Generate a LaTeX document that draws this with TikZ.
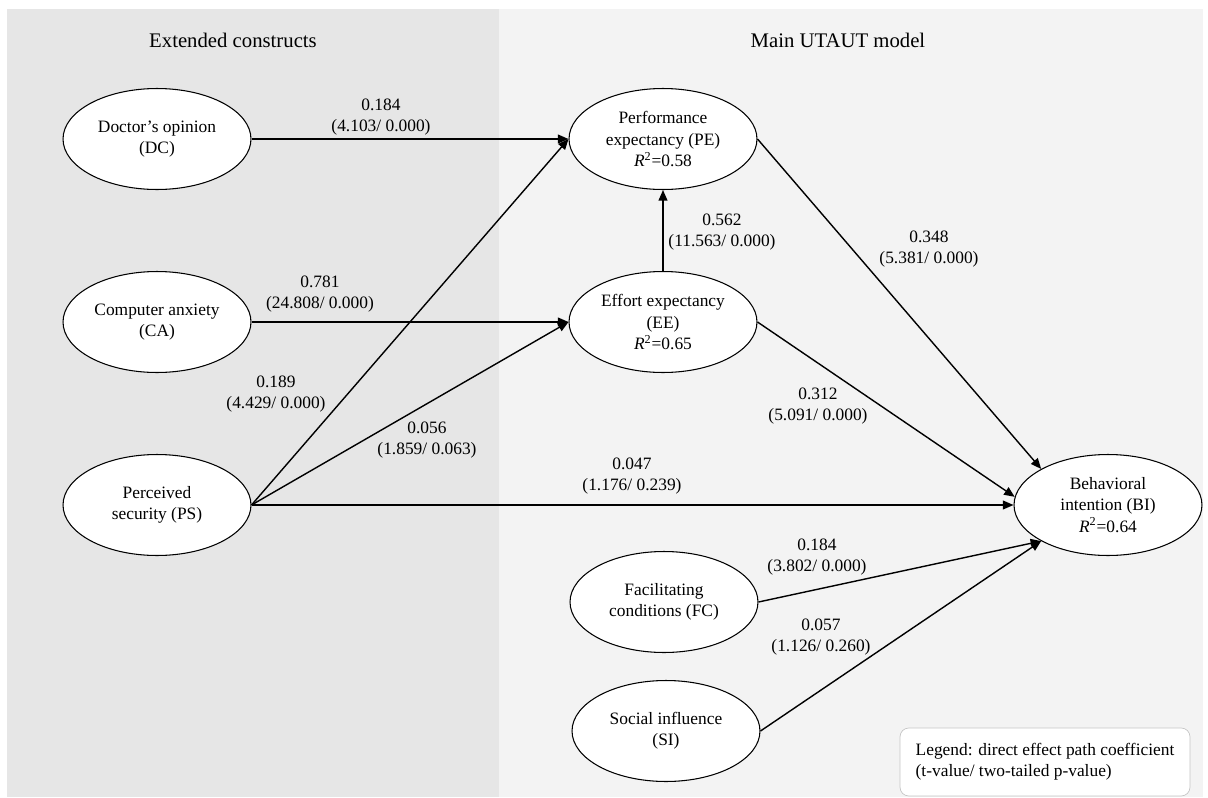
\documentclass[tikz,border=0pt]{standalone}
\usepackage{fontspec}
\setmainfont{Liberation Serif}
\usetikzlibrary{shapes.geometric,arrows.meta}

\definecolor{extbg}{HTML}{E6E6E6}
\definecolor{mainbg}{HTML}{F3F3F3}

\tikzset{
  construct/.style={ellipse, draw, fill=white, line width=0.6pt,
    minimum width=3.76cm, minimum height=2.02cm, inner sep=0pt,
    align=center, font=\fontsize{9.9}{12.2}\selectfont},
  coef/.style={align=center, inner sep=0pt, font=\fontsize{9.9}{12.2}\selectfont},
  effect/.style={-{Triangle[length=6pt,width=5pt]}, line width=0.8pt},
  paneltitle/.style={font=\fontsize{11.8}{14}\selectfont},
}

\begin{document}
\begin{tikzpicture}[x=0.02cm, y=-0.02cm]
\useasboundingbox (0,0) rectangle (1208,798);
% the two panels
\fill[extbg] (7,9) rectangle (499,797);
\fill[mainbg] (499,9) rectangle (1203,797);
\node[paneltitle] (exttitle) at (233,40) {Extended constructs};
\node[paneltitle] (maintitle) at (838,40) {Main UTAUT model};

% constructs
\node[construct] (dc) at (157,139) {Doctor’s opinion\\(DC)};
\node[construct] (ca) at (157,322) {Computer anxiety\\(CA)};
\node[construct] (ps) at (157,505) {Perceived\\security (PS)};
\node[construct] (pe) at (663,139) {Performance\\expectancy (PE)\\\textit{R}\textsuperscript{2}=0.58};
\node[construct] (ee) at (663,322) {Effort expectancy\\(EE)\\\textit{R}\textsuperscript{2}=0.65};
\node[construct] (bi) at (1108,505) {Behavioral\\intention (BI)\\\textit{R}\textsuperscript{2}=0.64};
\node[construct] (fc) at (664,602) {Facilitating\\conditions (FC)};
\node[construct] (si) at (666,731) {Social influence\\(SI)};

% paths
\draw[effect] (dc.east) -- (pe.west);
\draw[effect] (ca.east) -- (ee.west);
\draw[effect] (ps.east) -- (pe.west);
\draw[effect] (ps.east) -- (ee.west);
\draw[effect] (ps.east) -- (bi.west);
\draw[effect] (ee.north) -- (pe.south);
\draw[effect] (pe.east) -- (bi.north west);
\draw[effect] (ee.east) -- (bi.175);
\draw[effect] (fc.east) -- (bi.south west);
\draw[effect] (si.east) -- (bi.south west);

% coefficients
\node[coef] (dcpe) at (381,117) {0.184\\(4.103/ 0.000)};
\node[coef] (caee) at (320,294) {0.781\\(24.808/ 0.000)};
\node[coef] (pspe) at (276,394) {0.189\\(4.429/ 0.000)};
\node[coef] (psee) at (427,440) {0.056\\(1.859/ 0.063)};
\node[coef] (psbi) at (632,476) {0.047\\(1.176/ 0.239)};
\node[coef] (eepe) at (722,232) {0.562\\(11.563/ 0.000)};
\node[coef] (pebi) at (929,249) {0.348\\(5.381/ 0.000)};
\node[coef] (eebi) at (818,406) {0.312\\(5.091/ 0.000)};
\node[coef] (fcbi) at (817,557) {0.184\\(3.802/ 0.000)};
\node[coef] (sibi) at (821,637) {0.057\\(1.126/ 0.260)};

% legend
\node[draw=gray!45, rounded corners=5pt, fill=white, minimum width=5.8cm,
  minimum height=1.36cm, align=left, font=\fontsize{9.9}{12.2}\selectfont]
  (legend) at (1045,762) {Legend: direct effect path coefficient\\(t-value/ two-tailed p-value)};
\end{tikzpicture}
\end{document}
